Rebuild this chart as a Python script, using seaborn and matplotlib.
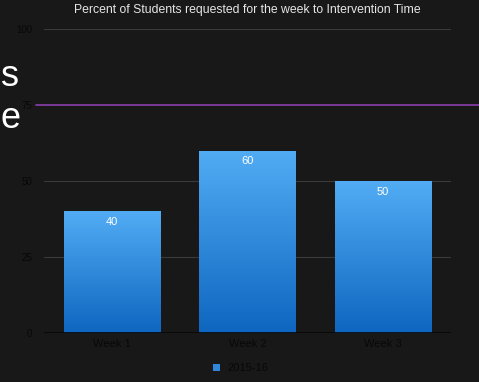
import matplotlib
matplotlib.use("Agg")
import matplotlib.pyplot as plt
import seaborn as sns
import numpy as np
import pandas as pd
from matplotlib.colors import LinearSegmentedColormap

weeks = ["Week 1", "Week 2", "Week 3"]
values = [40, 60, 50]
series_name = "2015-16"
yticks = [0, 25, 50, 75, 100]
target = 75
title = "Percent of Students requested for the week to Intervention Time"

sns.set_theme(style="dark")
plt.rcParams['font.family'] = ['Liberation Sans', 'DejaVu Sans']

bg = "#181818"
fig = plt.figure(figsize=(4.79, 3.82), dpi=100, facecolor=bg)
ax = fig.add_axes([44/479, 1-333/382, 407/479, 304/382])
ax.set_facecolor(bg)

df = pd.DataFrame({"week": weeks, "value": values, "series": series_name})
sns.barplot(data=df, x="week", y="value", hue="series", width=0.71,
            palette=["#2f86dc"], ax=ax, zorder=3, saturation=1, legend=False)

ax.set_xlim(-0.5, 2.5)
ax.set_ylim(0, 100)
ax.set_yticks(yticks)
ax.set_yticklabels([str(t) for t in yticks], fontsize=7, color="#080808")
ax.tick_params(axis='y', length=0, pad=8.5)
ax.tick_params(axis='x', length=0, labelsize=8, labelcolor="#080808", pad=4)
ax.set_xlabel("")
ax.set_ylabel("")
for s in ax.spines.values():
    s.set_visible(False)
ax.grid(False)
for t in [25, 50, 100]:
    ax.axhline(t, color="#3a3a3a", lw=0.8, zorder=1)
ax.axhline(0, color="#050505", lw=1.2, zorder=4)

# gradient bars
cmap = LinearSegmentedColormap.from_list("g", ["#0f66c0", "#52acf4"])
grad = np.linspace(0, 1, 256).reshape(-1, 1)
for p in list(ax.patches):
    x0, w, h = p.get_x(), p.get_width(), p.get_height()
    im = ax.imshow(grad, cmap=cmap, origin="lower", aspect="auto",
                   extent=[x0, x0 + w, 0, h], zorder=3)
    im.set_clip_path(p)
    p.set_facecolor("none")
    p.set_edgecolor("none")
    ax.annotate(f"{int(h)}", (x0 + w/2, h), xytext=(0, -4), textcoords="offset points",
                ha="center", va="top", color="white", fontsize=8, zorder=5)
ax.set_xlim(-0.5, 2.5)
ax.set_ylim(0, 100)

# target line extending past axes
ax.axhline(target, xmin=-8/407, xmax=1.08, color="#8b3fae", lw=1.2, clip_on=False, zorder=5)

fig.text(247.5/479, 1-10/382, title, ha="center", va="center", color="#e6e6e6", fontsize=8.8)

# legend
fig.patches.append(plt.Rectangle((213/479, 1-371/382), 7/479, 7/382, transform=fig.transFigure,
                                 facecolor="#2f86dc", edgecolor="none", figure=fig))
fig.text(227/479, 1-368/382, series_name, ha="left", va="center", color="#080808", fontsize=8)

# slide background text fragments
fig.text(0.5/479, 1-76/382, "s", ha="left", va="center", color="white", fontsize=26)
fig.text(0.5/479, 1-118/382, "e", ha="left", va="center", color="white", fontsize=26)

fig.savefig("out.png", dpi=100, facecolor=bg)
